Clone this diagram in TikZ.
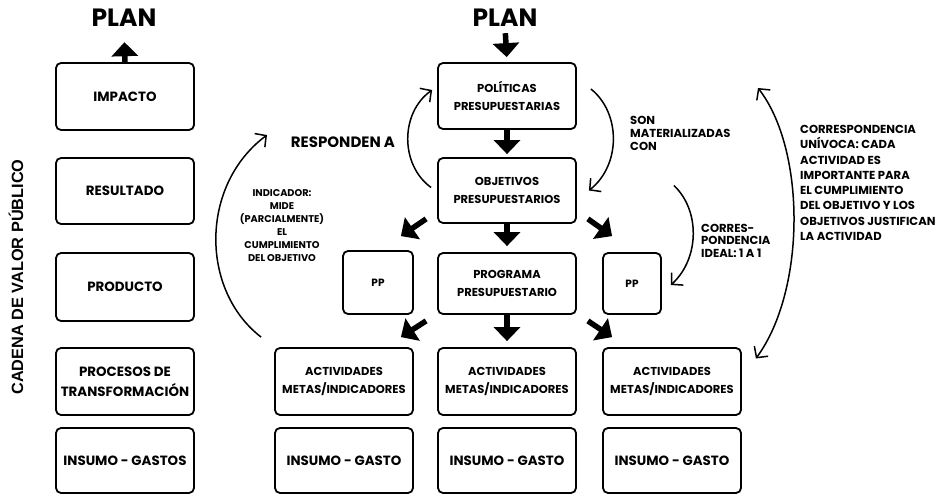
\documentclass[tikz,border=0pt]{standalone}
\usepackage{fontspec}
\setmainfont{Poppins}
\newfontfamily\sidefont{Liberation Sans}
\usetikzlibrary{arrows.meta,calc}

\begin{document}
\begin{tikzpicture}[x=1pt,y=-1pt,
  box/.style={draw, line width=1.8pt, rounded corners=5pt, align=center, inner sep=0pt,
    font=\bfseries\fontsize{13.4}{20}\selectfont},
  sbox/.style={box, font=\bfseries\fontsize{11.5}{17.5}\selectfont},
  tinybox/.style={box, font=\bfseries\fontsize{10.5}{12}\selectfont},
  bigarrow/.style={line width=5.5pt, -{Triangle[width=26pt,length=14pt]}},
  thinarrow/.style={line width=1.5pt, -{Straight Barb[length=8pt,width=17pt]}},
  note/.style={font=\bfseries\fontsize{11.6}{13}\selectfont, align=left, inner sep=0pt},
  plan/.style={font=\bfseries\fontsize{25}{28}\selectfont, inner sep=0pt, anchor=base},
]
\useasboundingbox (0,0) rectangle (945,495);

% headings
\node[plan] (planL) at (124,26.5) {PLAN};
\node[plan] (planM) at (505,26.5) {PLAN};

% side label
\node[rotate=90, font=\sidefont\bfseries\fontsize{16.3}{18}\selectfont] (side) at (16,277) {CADENA DE VALOR PÚBLICO};

% value chain column
\node[box, minimum width=138, minimum height=67] (imp)  at (125,96.5)  {IMPACTO};
\node[box, minimum width=138, minimum height=66] (res)  at (125,191)   {RESULTADO};
\node[box, minimum width=138, minimum height=68] (prod) at (125,287)   {PRODUCTO};
\node[box, minimum width=138, minimum height=67] (proc) at (125,381.5) {PROCESOS DE\\TRANSFORMACIÓN};
\node[box, minimum width=138, minimum height=65] (ins)  at (125,460.5) {INSUMO - GASTOS};

% budget structure
\node[sbox, minimum width=138, minimum height=66] (pol)  at (507,96)    {POLÍTICAS\\PRESUPUESTARIAS};
\node[sbox, minimum width=138, minimum height=65] (obj)  at (507,190.5) {OBJETIVOS\\PRESUPUESTARIOS};
\node[sbox, minimum width=138, minimum height=61] (prog) at (507,283.5) {PROGRAMA\\PRESUPUESTARIO};
\node[tinybox, minimum width=70, minimum height=63] (ppL) at (378,282.5) {PP};
\node[tinybox, minimum width=58, minimum height=61] (ppR) at (632,283.5) {PP};

\node[sbox, minimum width=138, minimum height=67] (actL) at (344,381.5) {ACTIVIDADES\\METAS/INDICADORES};
\node[sbox, minimum width=138, minimum height=67] (actM) at (507,381.5) {ACTIVIDADES\\METAS/INDICADORES};
\node[sbox, minimum width=138, minimum height=67] (actR) at (672,381.5) {ACTIVIDADES\\METAS/INDICADORES};

\node[box, minimum width=138, minimum height=65] (insL) at (344,460.5) {INSUMO - GASTO};
\node[box, minimum width=138, minimum height=65] (insM) at (507,460.5) {INSUMO - GASTO};
\node[box, minimum width=138, minimum height=65] (insR) at (672,460.5) {INSUMO - GASTO};

% thick arrows
\draw[bigarrow, shorten >=15.5] (imp.north) -- (planL.south);
\draw[bigarrow, shorten <=6.5, shorten >=5] (planM.south) -- (pol.north);
\draw[bigarrow, shorten >=3] (pol.south) -- (obj.north);
\draw[bigarrow, shorten >=6] (obj.south) -- (prog.north);
\draw[bigarrow, shorten >=6] (prog.south) -- (actM.north);
\draw[bigarrow] ($(obj.south west)+(-11,-5)$) -- ($(ppL.north east)+(-13,-14)$);
\draw[bigarrow] ($(obj.south east)+(11,-5)$) -- ($(ppR.north west)+(10,-16)$);
\draw[bigarrow] ($(prog.south west)+(-11,6)$) -- ($(actL.north east)+(-13,-10)$);
\draw[bigarrow] ($(prog.south east)+(11,6)$) -- ($(actR.north west)+(10,-10)$);

% thin curved arrows
\coordinate (respS) at ($(obj.west)+(-6,-3)$);
\coordinate (respE) at ($(pol.west)+(-5,-6)$);
\draw[thinarrow] (respS) .. controls (400,165) and (400,113) .. (respE);

\coordinate (matS) at ($(pol.east)+(14,-7)$);
\coordinate (matE) at ($(obj.east)+(12,0)$);
\draw[thinarrow] (matS) .. controls (621,113) and (621,165) .. (matE);

\coordinate (idS) at ($(obj.east)+(97,-5)$);
\coordinate (idE) at ($(ppR.east)+(9,1.5)$);
\draw[thinarrow] (idS) .. controls (700,210) and (700,258) .. (idE);

\coordinate (uniT) at (758,88);
\coordinate (uniB) at ($(actR.east)+(14,-23)$);
\draw[thinarrow, {Straight Barb[length=8pt,width=17pt]}-{Straight Barb[length=8pt,width=17pt]}]
  (uniT) .. controls (806,150) and (806,290) .. (uniB);

\coordinate (indS) at ($(actL.north west)+(-13,-10)$);
\coordinate (indE) at (267,135);
\draw[thinarrow] (indS) .. controls (200,290) and (200,185) .. (indE);

% annotations (base anchor sits on the last line)
\node[font=\bfseries\fontsize{15}{17}\selectfont, inner sep=0pt] (resp) at (343,142) {RESPONDEN A};
\node[note, anchor=base west] (mat) at (630,150.5) {SON\\MATERIALIZADAS\\CON};
\node[note, anchor=base west, font=\bfseries\fontsize{11.6}{12.5}\selectfont] (ideal) at (701,257) {CORRES-\\PONDENCIA\\IDEAL: 1 A 1};
\node[note, anchor=base west, font=\bfseries\fontsize{11.6}{15.3}\selectfont] (uni) at (800,240.5)
  {CORRESPONDENCIA\\UNÍVOCA: CADA\\ACTIVIDAD ES\\IMPORTANTE PARA\\EL CUMPLIMIENTO\\DEL OBJETIVO Y LOS\\OBJETIVOS JUSTIFICAN\\LA ACTIVIDAD};
\node[note, align=center, anchor=base, font=\bfseries\fontsize{9.8}{13}\selectfont] (ind) at (282,261)
  {INDICADOR:\\MIDE\\(PARCIALMENTE)\\EL\\CUMPLIMIENTO\\DEL OBJETIVO};
\end{tikzpicture}
\end{document}
